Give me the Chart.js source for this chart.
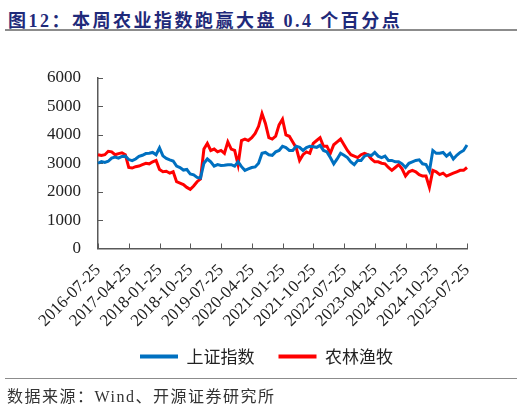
<!DOCTYPE html>
<html>
<head>
<meta charset="utf-8">
<script src="https://cdn.jsdelivr.net/npm/chart.js@4.4.0/dist/chart.umd.min.js"></script>
<style>
  html, body { margin: 0; padding: 0; background: #fff; }
  body { width: 522px; height: 407px; position: relative; overflow: hidden; }
  #title {
    position: absolute; left: 8px; top: 6px;
    font: bold 18px "Liberation Serif", "Noto Sans CJK SC", serif;
    letter-spacing: 2.5px; color: #1F2A7A; white-space: nowrap;
  }
  #title .cjk { font-family: "Noto Sans CJK SC", sans-serif; }
  #rule1 { position: absolute; left: 5px; top: 29px; width: 512px; height: 2px; background: #8c8c8c; }
  #rule2 { position: absolute; left: 5px; top: 378px; width: 512px; height: 1px; background: #8c8c8c; }
  #source {
    position: absolute; left: 7px; top: 383px;
    font: 16px "Liberation Serif", "Noto Sans CJK SC", serif;
    letter-spacing: 1.5px; color: #333; white-space: nowrap;
  }
  #wrap { position: absolute; left: 0; top: 38px; width: 522px; height: 348px; }
</style>
</head>
<body>
<div id="title"><span class="cjk">图</span>12<span class="cjk">：本周农业指数跑赢大盘 </span>0.4<span class="cjk"> 个百分点</span></div>
<div id="rule1"></div>
<div id="wrap"><canvas id="c" width="522" height="348"></canvas></div>
<div id="rule2"></div>
<div id="source">数据来源：Wind、开源证券研究所</div>
<script>
// monthly points, 2016-07 .. 2025-07
const tickLabels = ['2016-07-25','2017-04-25','2018-01-25','2018-10-25','2019-07-25','2020-04-25',
  '2021-01-25','2021-10-25','2022-07-25','2023-04-25','2024-01-25','2024-10-25','2025-07-25'];

const categories = [];
for (let i = 0; i <= 108; i++) {
  const m = (6 + i) % 12 + 1;
  const y = 2016 + Math.floor((6 + i) / 12);
  categories.push(y + '-' + String(m).padStart(2, '0') + '-25');
}

const shIndex = [
  3000, 3060, 3030, 3070, 3180, 3220, 3180, 3240, 3250, 3130, 3090, 3150,   // 2016-07 .. 2017-06
  3240, 3280, 3340, 3350, 3380, 3300, 3540, 3260, 3170, 3120, 3080, 2900,   // 2017-07 .. 2018-06
  2850, 2760, 2780, 2620, 2590, 2500, 2480, 3000, 3150, 3050, 2900, 2950,   // 2018-07 .. 2019-06
  2920, 2930, 2950, 2950, 2900, 3050, 2880, 2750, 2800, 2850, 2870, 3000,   // 2019-07 .. 2020-06
  3350, 3380, 3300, 3280, 3400, 3450, 3600, 3550, 3450, 3450, 3600, 3560,   // 2020-07 .. 2021-06
  3450, 3550, 3600, 3580, 3560, 3630, 3450, 3400, 3200, 2980, 3150, 3350,   // 2021-07 .. 2022-06
  3280, 3200, 3050, 2950, 3100, 3100, 3250, 3300, 3270, 3380, 3250, 3200,   // 2022-07 .. 2023-06
  3250, 3100, 3100, 3050, 3050, 2980, 2850, 3000, 3050, 3100, 3120, 2980,   // 2023-07 .. 2024-06
  2950, 2720, 3450, 3350, 3350, 3380, 3250, 3350, 3150, 3280, 3380, 3450,   // 2024-07 .. 2025-06
  3640                                                                      // 2025-07
];

const agriIndex = [
  3300, 3270, 3300, 3420, 3400, 3300, 3340, 3370, 3300, 2850, 2830, 2880,
  2900, 2950, 3000, 2980, 3050, 3100, 2780, 2700, 2720, 2650, 2700, 2350,
  2300, 2250, 2150, 2080, 2200, 2350, 2450, 3500, 3700, 3450, 3500, 3400,
  3450, 3350, 3750, 3500, 3450, 2950, 3800, 3850, 3800, 3900, 4050, 4300,
  4750, 4400, 3900, 3850, 3950, 4350, 4550, 4000, 3950, 3750, 3550, 3100,
  3300, 3400, 3350, 3700, 3800, 3900, 3600, 3600, 3350, 3650, 3750, 3850,
  3650, 3450, 3300, 3250, 3200, 3300, 3350, 3300, 3150, 3050, 3050, 3000,
  2980, 2850, 2750, 2850, 2950, 2800, 2550, 2700, 2750, 2700, 2600, 2550,
  2550, 2150, 2750, 2700, 2600, 2650, 2550, 2600, 2650, 2700, 2750, 2750,
  2850
];

const axisColor = '#595959';

// ticks drawn inward, only at the labelled dates
const innerTicks = {
  id: 'innerTicks',
  beforeDatasetsDraw(chart) {
    const { ctx, chartArea: a, scales: { x, y } } = chart;
    ctx.save();
    ctx.strokeStyle = axisColor;
    ctx.lineWidth = 1;
    ctx.beginPath();
    categories.forEach((c, i) => {
      if (tickLabels.includes(c)) {
        const px = Math.round(x.getPixelForValue(i)) + 0.5;
        ctx.moveTo(px, a.bottom);
        ctx.lineTo(px, a.bottom - 5);
      }
    });
    y.ticks.forEach(t => {
      const py = Math.round(y.getPixelForValue(t.value)) + 0.5;
      ctx.moveTo(a.left, py);
      ctx.lineTo(a.left + 5, py);
    });
    ctx.stroke();
    ctx.restore();
  }
};

// nudge the legend box: a bit closer to the axis labels and to the right
const legendShift = {
  id: 'legendShift',
  afterUpdate(chart) {
    const lg = chart.legend;
    if (!lg) return;
    lg.top -= 11; lg.bottom -= 11;
    lg.left += 18; lg.right += 18;
  }
};

new Chart(document.getElementById('c'), {
  type: 'line',
  data: {
    labels: categories,
    datasets: [
      { label: '上证指数', data: shIndex, borderColor: '#0070C0', backgroundColor: '#0070C0' },
      { label: '农林渔牧', data: agriIndex, borderColor: '#FF0000', backgroundColor: '#FF0000' }
    ]
  },
  options: {
    responsive: false,
    animation: false,
    devicePixelRatio: 1,
    layout: { padding: { left: 30, right: 55, top: 40, bottom: 0 } },
    elements: {
      line: { borderWidth: 3, tension: 0 },
      point: { radius: 0 }
    },
    scales: {
      x: {
        grid: { display: false },
        border: { display: true, color: axisColor, width: 1.5 },
        ticks: {
          autoSkip: false,
          minRotation: 45,
          maxRotation: 45,
          padding: 4,
          color: '#222',
          font: { family: '"Liberation Serif", serif', size: 17 },
          callback(value) {
            const lab = this.getLabelForValue(value);
            return tickLabels.includes(lab) ? lab : null;
          }
        }
      },
      y: {
        min: 0,
        max: 6000,
        grid: { display: false, drawTicks: false },
        border: { display: true, color: axisColor, width: 1.5 },
        ticks: {
          stepSize: 1000,
          padding: 17,
          color: '#222',
          font: { family: '"Liberation Serif", serif', size: 17 },
          callback: v => String(v)
        }
      }
    },
    plugins: {
      tooltip: { enabled: false },
      legend: {
        position: 'bottom',
        labels: {
          boxWidth: 38,
          boxHeight: 4,
          padding: 24,
          color: '#222',
          font: { family: '"Noto Sans CJK SC", sans-serif', size: 17 },
          generateLabels(chart) {
            return Chart.defaults.plugins.legend.labels.generateLabels(chart)
              .map(it => Object.assign(it, { lineWidth: 0 }));
          }
        }
      }
    }
  },
  plugins: [innerTicks, legendShift]
});
</script>
</body>
</html>
